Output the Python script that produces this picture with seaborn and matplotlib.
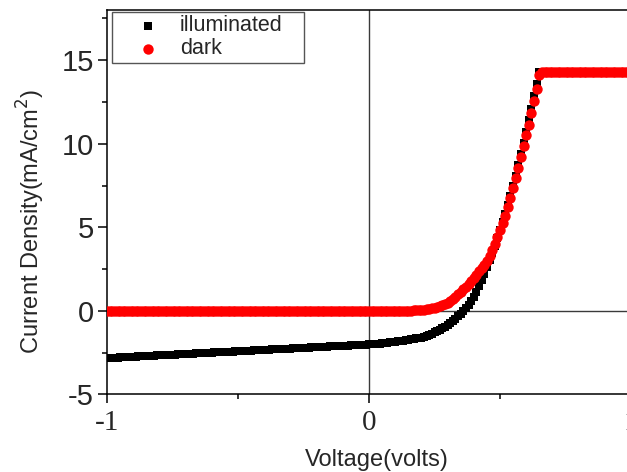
import matplotlib
matplotlib.use("Agg")
import matplotlib.pyplot as plt
import seaborn as sns
import pandas as pd
from matplotlib.ticker import FixedLocator

# ---- data (0.01 V sweep) ----
voltage = [
    -1.00, -0.99, -0.98, -0.97, -0.96, -0.95, -0.94, -0.93, -0.92, -0.91,
    -0.90, -0.89, -0.88, -0.87, -0.86, -0.85, -0.84, -0.83, -0.82, -0.81,
    -0.80, -0.79, -0.78, -0.77, -0.76, -0.75, -0.74, -0.73, -0.72, -0.71,
    -0.70, -0.69, -0.68, -0.67, -0.66, -0.65, -0.64, -0.63, -0.62, -0.61,
    -0.60, -0.59, -0.58, -0.57, -0.56, -0.55, -0.54, -0.53, -0.52, -0.51,
    -0.50, -0.49, -0.48, -0.47, -0.46, -0.45, -0.44, -0.43, -0.42, -0.41,
    -0.40, -0.39, -0.38, -0.37, -0.36, -0.35, -0.34, -0.33, -0.32, -0.31,
    -0.30, -0.29, -0.28, -0.27, -0.26, -0.25, -0.24, -0.23, -0.22, -0.21,
    -0.20, -0.19, -0.18, -0.17, -0.16, -0.15, -0.14, -0.13, -0.12, -0.11,
    -0.10, -0.09, -0.08, -0.07, -0.06, -0.05, -0.04, -0.03, -0.02, -0.01,
    0.00, 0.01, 0.02, 0.03, 0.04, 0.05, 0.06, 0.07, 0.08, 0.09,
    0.10, 0.11, 0.12, 0.13, 0.14, 0.15, 0.16, 0.17, 0.18, 0.19,
    0.20, 0.21, 0.22, 0.23, 0.24, 0.25, 0.26, 0.27, 0.28, 0.29,
    0.30, 0.31, 0.32, 0.33, 0.34, 0.35, 0.36, 0.37, 0.38, 0.39,
    0.40, 0.41, 0.42, 0.43, 0.44, 0.45, 0.46, 0.47, 0.48, 0.49,
    0.50, 0.51, 0.52, 0.53, 0.54, 0.55, 0.56, 0.57, 0.58, 0.59,
    0.60, 0.61, 0.62, 0.63, 0.64, 0.65, 0.66, 0.67, 0.68, 0.69,
    0.70, 0.71, 0.72, 0.73, 0.74, 0.75, 0.76, 0.77, 0.78, 0.79,
    0.80, 0.81, 0.82, 0.83, 0.84, 0.85, 0.86, 0.87, 0.88, 0.89,
    0.90, 0.91, 0.92, 0.93, 0.94, 0.95, 0.96, 0.97, 0.98, 0.99,
    1.00,
]

j_illuminated = [
    -2.82, -2.81, -2.80, -2.80, -2.79, -2.78, -2.77, -2.76, -2.75, -2.75,
    -2.74, -2.73, -2.72, -2.71, -2.71, -2.70, -2.69, -2.68, -2.67, -2.66,
    -2.66, -2.65, -2.64, -2.63, -2.62, -2.62, -2.61, -2.60, -2.59, -2.58,
    -2.57, -2.57, -2.56, -2.55, -2.54, -2.53, -2.52, -2.52, -2.51, -2.50,
    -2.49, -2.48, -2.48, -2.47, -2.46, -2.45, -2.44, -2.43, -2.43, -2.42,
    -2.41, -2.40, -2.39, -2.39, -2.38, -2.37, -2.36, -2.35, -2.34, -2.34,
    -2.33, -2.32, -2.31, -2.30, -2.30, -2.29, -2.28, -2.27, -2.26, -2.25,
    -2.25, -2.24, -2.23, -2.22, -2.21, -2.21, -2.20, -2.19, -2.18, -2.17,
    -2.16, -2.16, -2.15, -2.14, -2.13, -2.12, -2.11, -2.11, -2.10, -2.09,
    -2.08, -2.07, -2.07, -2.06, -2.05, -2.04, -2.03, -2.02, -2.02, -2.01,
    -2.00, -1.99, -1.98, -1.97, -1.95, -1.94, -1.92, -1.90, -1.88, -1.86,
    -1.84, -1.82, -1.79, -1.77, -1.74, -1.72, -1.70, -1.68, -1.65, -1.63,
    -1.60, -1.55, -1.49, -1.43, -1.36, -1.29, -1.21, -1.13, -1.04, -0.94,
    -0.84, -0.73, -0.60, -0.46, -0.31, -0.16, -0.01, 0.15, 0.35, 0.58,
    0.85, 1.15, 1.48, 1.83, 2.20, 2.60, 3.02, 3.45, 3.90, 4.36,
    4.84, 5.32, 5.82, 6.35, 6.90, 7.50, 8.10, 8.75, 9.40, 10.05,
    10.72, 11.40, 12.10, 12.85, 13.60, 14.30, 14.30, 14.30, 14.30, 14.30,
    14.30, 14.30, 14.30, 14.30, 14.30, 14.30, 14.30, 14.30, 14.30, 14.30,
    14.30, 14.30, 14.30, 14.30, 14.30, 14.30, 14.30, 14.30, 14.30, 14.30,
    14.30, 14.30, 14.30, 14.30, 14.30, 14.30, 14.30, 14.30, 14.30, 14.30,
    14.30,
]

j_dark = [
    0.00, 0.00, 0.00, 0.00, 0.00, 0.00, 0.00, 0.00, 0.00, 0.00,
    0.00, 0.00, 0.00, 0.00, 0.00, 0.00, 0.00, 0.00, 0.00, 0.00,
    0.00, 0.00, 0.00, 0.00, 0.00, 0.00, 0.00, 0.00, 0.00, 0.00,
    0.00, 0.00, 0.00, 0.00, 0.00, 0.00, 0.00, 0.00, 0.00, 0.00,
    0.00, 0.00, 0.00, 0.00, 0.00, 0.00, 0.00, 0.00, 0.00, 0.00,
    0.00, 0.00, 0.00, 0.00, 0.00, 0.00, 0.00, 0.00, 0.00, 0.00,
    0.00, 0.00, 0.00, 0.00, 0.00, 0.00, 0.00, 0.00, 0.00, 0.00,
    0.00, 0.00, 0.00, 0.00, 0.00, 0.00, 0.00, 0.00, 0.00, 0.00,
    0.00, 0.00, 0.00, 0.00, 0.00, 0.00, 0.00, 0.00, 0.00, 0.00,
    0.00, 0.00, 0.00, 0.00, 0.00, 0.00, 0.00, 0.00, 0.00, 0.00,
    0.00, 0.00, 0.00, 0.00, 0.00, 0.00, 0.00, 0.00, 0.00, 0.00,
    0.00, 0.00, 0.01, 0.01, 0.01, 0.01, 0.02, 0.03, 0.04, 0.05,
    0.06, 0.08, 0.10, 0.13, 0.16, 0.20, 0.24, 0.29, 0.35, 0.42,
    0.50, 0.62, 0.74, 0.86, 1.00, 1.15, 1.30, 1.46, 1.62, 1.79,
    1.97, 2.17, 2.36, 2.55, 2.76, 3.00, 3.28, 3.62, 4.00, 4.42,
    4.85, 5.25, 5.70, 6.20, 6.75, 7.35, 7.95, 8.55, 9.20, 9.85,
    10.50, 11.15, 11.85, 12.55, 13.30, 14.10, 14.30, 14.30, 14.30, 14.30,
    14.30, 14.30, 14.30, 14.30, 14.30, 14.30, 14.30, 14.30, 14.30, 14.30,
    14.30, 14.30, 14.30, 14.30, 14.30, 14.30, 14.30, 14.30, 14.30, 14.30,
    14.30, 14.30, 14.30, 14.30, 14.30, 14.30, 14.30, 14.30, 14.30, 14.30,
    14.30,
]

series_names = ["illuminated", "dark"]
x_tick_values = [-1, 0, 1]
x_tick_labels = ["-1", "0", "1"]
y_tick_values = [-5, 0, 5, 10, 15]
y_tick_labels = ["-5", "0", "5", "10", "15"]

# ---- style ----
sns.set_style("ticks")
plt.rcParams["font.family"] = ["Liberation Sans", "DejaVu Sans"]

fig = plt.figure(figsize=(6.27, 4.72), dpi=100)
ax = fig.add_axes([0.1707, 0.1642, 0.8357, 0.8146])

df_ill = pd.DataFrame({"Voltage": voltage, "J": j_illuminated})
df_dark = pd.DataFrame({"Voltage": voltage, "J": j_dark})

ax.axhline(0, color="#3a3a3a", lw=1.0, zorder=0)
ax.axvline(0, color="#3a3a3a", lw=1.0, zorder=0)

sns.scatterplot(data=df_ill, x="Voltage", y="J", marker="s", s=38,
                color="black", linewidth=0, ax=ax, label=series_names[0],
                zorder=3)
sns.scatterplot(data=df_dark, x="Voltage", y="J", marker="o", s=56,
                color="#ff0000", linewidth=0, ax=ax, label=series_names[1],
                zorder=4)

ax.set_xlim(-1, 1)
ax.set_ylim(-5, 18)

ax.set_xticks(x_tick_values)
ax.set_xticklabels(x_tick_labels, fontfamily="Liberation Serif", fontsize=21)
ax.set_yticks(y_tick_values)
ax.set_yticklabels(y_tick_labels, fontsize=21)
ax.xaxis.set_minor_locator(FixedLocator([-0.5, 0.5]))
ax.yaxis.set_minor_locator(FixedLocator([-2.5, 2.5, 7.5, 12.5, 17.5]))

ax.tick_params(which="major", direction="out", length=6.5, width=1.1,
               color="black", pad=3, top=False, right=False)
ax.tick_params(axis="x", which="major", pad=5)
ax.tick_params(which="minor", direction="out", length=3.5, width=1.1,
               color="black", top=False, right=False)

for sp in ax.spines.values():
    sp.set_visible(True)
    sp.set_color("black")
    sp.set_linewidth(1.1)

ax.set_xlabel("Voltage(volts)", fontsize=17)
ax.set_ylabel("Current Density(mA/cm$^2$)", fontsize=17)
ax.xaxis.set_label_coords(0.515, -0.143)
ax.yaxis.set_label_coords(-0.114, 0.451)

leg = ax.legend(loc="upper left", bbox_to_anchor=(0.0095, 0.0, 0.366, 0.995),
                mode="expand", borderaxespad=0, fontsize=15.5, frameon=True,
                fancybox=False, framealpha=1, edgecolor="#555555",
                borderpad=0.15, handlelength=3.0, handletextpad=0.0,
                labelspacing=0.1)
leg.get_frame().set_linewidth(1.0)

fig.savefig("out.png", dpi=100)
